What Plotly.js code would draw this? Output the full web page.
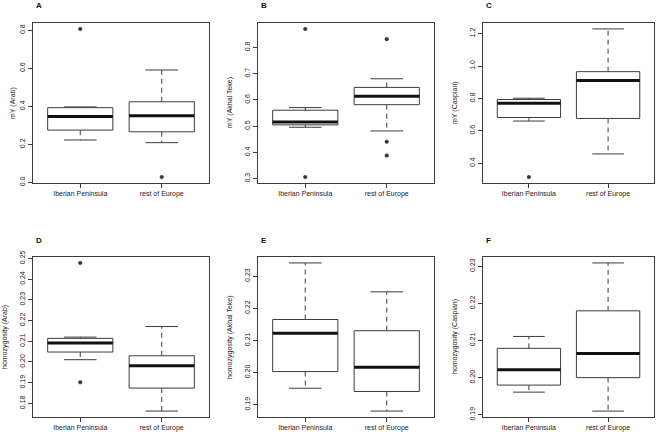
<!DOCTYPE html>
<html>
<head>
<meta charset="utf-8">
<script src="https://cdn.plot.ly/plotly-3.0.1.min.js"></script>
<style>html,body{margin:0;padding:0;background:#fff;}#chart{width:661px;height:436px;}</style>
</head>
<body>
<div id="chart"></div>
<script>
// ---- data ----
const categories = ['Iberian Peninsula', 'rest of Europe'];
const panelLetters = ['A', 'B', 'C', 'D', 'E', 'F'];
const yTitles = ['mY (Arab)', 'mY (Akhal Teke)', 'mY (Caspian)',
                 'homozygosity (Arab)', 'homozygosity (Akhal Teke)', 'homozygosity (Caspian)'];
const yTickStep = [0.2, 0.1, 0.2, 0.01, 0.01, 0.01];
const yTickFormat = ['.1f', '.1f', '.1f', '.2f', '.2f', '.2f'];

// per panel: [Iberian Peninsula, rest of Europe]
const A_lower = [0.223, 0.209];
const A_q1 = [0.275, 0.266];
const A_median = [0.346, 0.350];
const A_q3 = [0.393, 0.424];
const A_upper = [0.397, 0.591];
const A_outliers = [[0.807], [0.028]];

const B_lower = [0.496, 0.482];
const B_q1 = [0.505, 0.582];
const B_median = [0.516, 0.614];
const B_q3 = [0.561, 0.648];
const B_upper = [0.571, 0.681];
const B_outliers = [[0.871, 0.306], [0.832, 0.441, 0.388]];

const C_lower = [0.660, 0.457];
const C_q1 = [0.682, 0.676];
const C_median = [0.770, 0.910];
const C_q3 = [0.793, 0.965];
const C_upper = [0.801, 1.229];
const C_outliers = [[0.314], []];

const D_lower = [0.2011, 0.1763];
const D_q1 = [0.2048, 0.1874];
const D_median = [0.2092, 0.1982];
const D_q3 = [0.2114, 0.2030];
const D_upper = [0.2120, 0.2171];
const D_outliers = [[0.2478, 0.1902], []];

const E_lower = [0.1951, 0.1880];
const E_q1 = [0.2003, 0.1941];
const E_median = [0.2122, 0.2016];
const E_q3 = [0.2165, 0.2130];
const E_upper = [0.2341, 0.2251];
const E_outliers = [[], []];

const F_lower = [0.1961, 0.1910];
const F_q1 = [0.1980, 0.2000];
const F_median = [0.2021, 0.2065];
const F_q3 = [0.2079, 0.2180];
const F_upper = [0.2111, 0.2309];
const F_outliers = [[], []];

const panels = [
  {lower: A_lower, q1: A_q1, median: A_median, q3: A_q3, upper: A_upper, outliers: A_outliers},
  {lower: B_lower, q1: B_q1, median: B_median, q3: B_q3, upper: B_upper, outliers: B_outliers},
  {lower: C_lower, q1: C_q1, median: C_median, q3: C_q3, upper: C_upper, outliers: C_outliers},
  {lower: D_lower, q1: D_q1, median: D_median, q3: D_q3, upper: D_upper, outliers: D_outliers},
  {lower: E_lower, q1: E_q1, median: E_median, q3: E_q3, upper: E_upper, outliers: E_outliers},
  {lower: F_lower, q1: F_q1, median: F_median, q3: F_q3, upper: F_upper, outliers: F_outliers}
];

// ---- styling / layout constants ----
const W = 661, H = 436;
const colPx = [[33, 209], [258, 434], [483, 654]];
const rowPx = [[23, 183], [257, 417]];
const BOXWEX = 0.8, STAPLE = 0.4;
const LINE = '#3c3c3c', TEXT = '#222';
const FONT = 'Liberation Sans, Arial, Helvetica, sans-serif';

const traces = [];
const layout = {
  width: W, height: H,
  margin: {l: 0, r: 0, t: 0, b: 0},
  paper_bgcolor: '#fff', plot_bgcolor: '#fff',
  showlegend: false,
  hovermode: false,
  font: {family: FONT, size: 7, color: TEXT},
  annotations: []
};

panels.forEach((p, k) => {
  const sfx = k === 0 ? '' : String(k + 1);
  const xr = 'x' + sfx, yr = 'y' + sfx;
  const col = k % 3, row = Math.floor(k / 3);
  const boxX = [], boxY = [], medX = [], medY = [], whX = [], whY = [], capX = [], capY = [], oX = [], oY = [];
  let all = [];
  categories.forEach((c, i) => {
    const x = i + 1, h = BOXWEX / 2, s = STAPLE / 2;
    boxX.push(x - h, x + h, x + h, x - h, x - h, null);
    boxY.push(p.q1[i], p.q1[i], p.q3[i], p.q3[i], p.q1[i], null);
    medX.push(x - h, x + h, null);
    medY.push(p.median[i], p.median[i], null);
    whX.push(x, x, null, x, x, null);
    whY.push(p.q3[i], p.upper[i], null, p.q1[i], p.lower[i], null);
    capX.push(x - s, x + s, null, x - s, x + s, null);
    capY.push(p.upper[i], p.upper[i], null, p.lower[i], p.lower[i], null);
    p.outliers[i].forEach(v => { oX.push(x); oY.push(v); });
    all = all.concat([p.lower[i], p.upper[i]], p.outliers[i]);
  });
  const common = {xaxis: xr, yaxis: yr, hoverinfo: 'skip', showlegend: false};
  traces.push(Object.assign({type: 'scatter', mode: 'lines', x: whX, y: whY,
    line: {color: LINE, width: 1, dash: '5px,4px'}}, common));
  traces.push(Object.assign({type: 'scatter', mode: 'lines', x: capX, y: capY,
    line: {color: LINE, width: 1}}, common));
  traces.push(Object.assign({type: 'scatter', mode: 'lines', x: boxX, y: boxY, fill: 'toself',
    fillcolor: '#fff', line: {color: LINE, width: 1}}, common));
  traces.push(Object.assign({type: 'scatter', mode: 'lines', x: medX, y: medY,
    line: {color: '#111', width: 3}}, common));
  traces.push(Object.assign({type: 'scatter', mode: 'markers', x: oX, y: oY,
    marker: {symbol: 'circle', size: 3.6, color: '#333', line: {width: 0.5, color: '#333'}}}, common));

  const mn = Math.min(...all), mx = Math.max(...all), ext = (mx - mn) * 0.04;
  const n = categories.length;
  layout['xaxis' + sfx] = {
    domain: [colPx[col][0] / W, colPx[col][1] / W],
    anchor: yr,
    range: [0.5 - n * 0.04, n + 0.5 + n * 0.04],
    tickmode: 'array', tickvals: categories.map((c, i) => i + 1), ticktext: categories,
    ticks: 'outside', ticklen: 4, tickcolor: LINE, tickwidth: 1,
    showline: true, linecolor: LINE, linewidth: 1, mirror: true,
    showgrid: false, zeroline: false, fixedrange: true,
    tickfont: {family: FONT, size: 7, color: TEXT}
  };
  layout['yaxis' + sfx] = {
    domain: [1 - rowPx[row][1] / H, 1 - rowPx[row][0] / H],
    anchor: xr,
    range: [mn - ext, mx + ext],
    tick0: 0, dtick: yTickStep[k], tickformat: yTickFormat[k], tickangle: -90,
    ticks: 'outside', ticklen: 4, tickcolor: LINE, tickwidth: 1,
    showline: true, linecolor: LINE, linewidth: 1, mirror: true,
    showgrid: false, zeroline: false, fixedrange: true,
    tickfont: {family: FONT, size: 7, color: TEXT}
  };
  layout.annotations.push({
    xref: xr + ' domain', yref: yr + ' domain', x: 0, y: 0.5,
    xanchor: 'center', yanchor: 'middle', xshift: k === 0 ? -20 : -28,
    text: yTitles[k], textangle: -90, showarrow: false,
    font: {family: FONT, size: 7, color: TEXT}
  });
  layout.annotations.push({
    xref: xr + ' domain', yref: yr + ' domain', x: 0, y: 1,
    xanchor: 'left', yanchor: 'middle', xshift: 1, yshift: 17,
    text: '<b>' + panelLetters[k] + '</b>', showarrow: false,
    font: {family: FONT, size: 8, color: '#111'}
  });
});

Plotly.newPlot('chart', traces, layout, {displayModeBar: false, staticPlot: true});
</script>
</body>
</html>
